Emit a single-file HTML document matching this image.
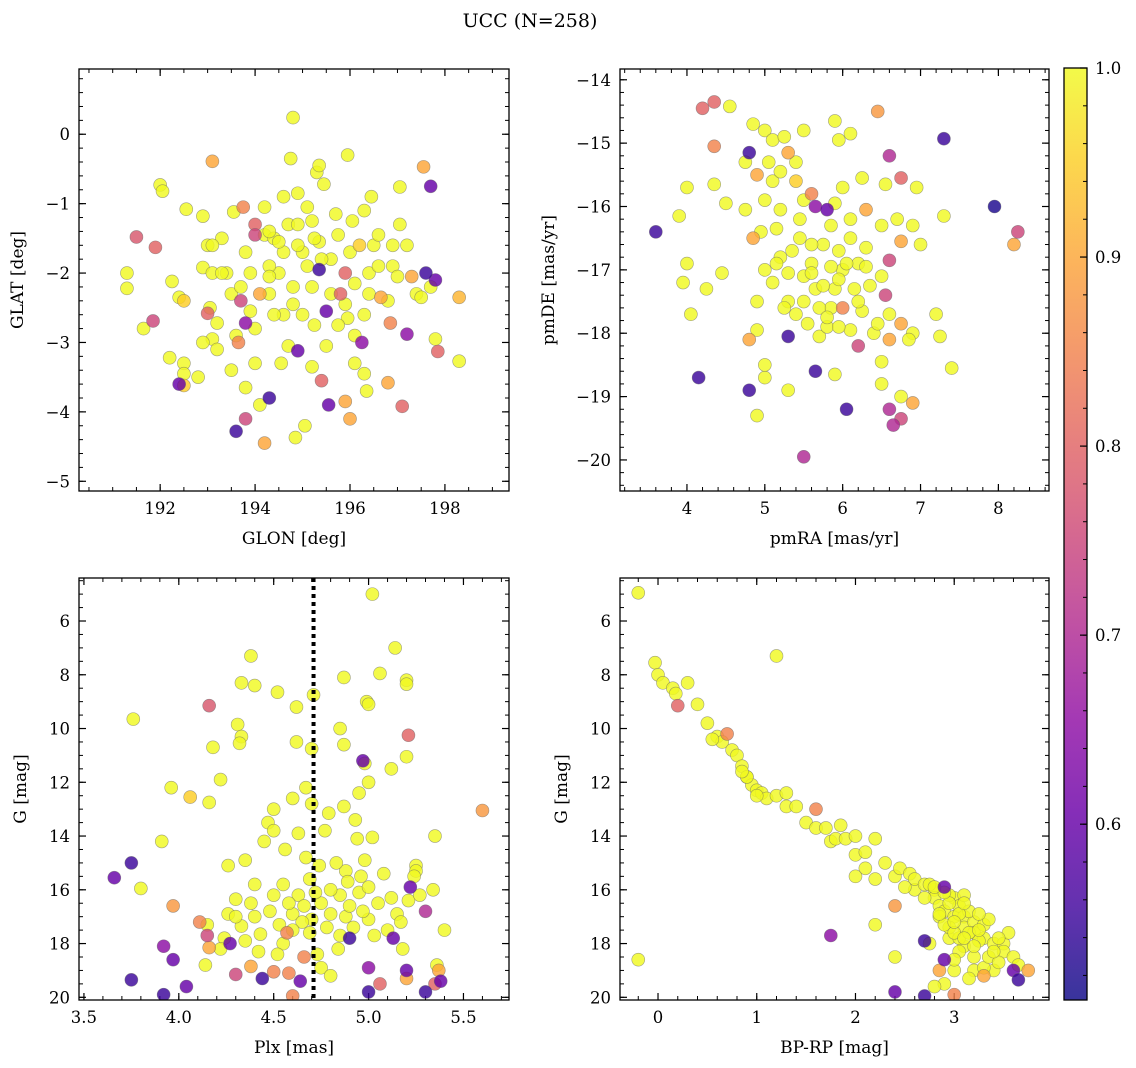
<!DOCTYPE html>
<html><head><meta charset="utf-8"><style>
body{margin:0;background:#fff}
svg{display:block;font-family:"DejaVu Serif","Liberation Serif",serif}
</style></head><body>
<svg id="fig" width="1136" height="1068" viewBox="0 0 1136 1068" xmlns="http://www.w3.org/2000/svg">
<text x="530" y="27" font-size="19" text-anchor="middle">UCC (N=258)</text>
</svg>
<script>
// ---- data: [x, y, membership probability] ----
const glonGlat = [[194.8,0.24,1],[193.1,-0.39,0.9],[192.0,-0.73,1],[192.05,-0.82,1],[191.5,-1.48,0.78],[191.9,-1.63,0.8],[191.3,-2.0,1],[191.3,-2.22,1],[191.65,-2.8,1],[191.85,-2.69,0.75],[192.55,-1.08,1],[192.9,-1.18,1],[193.3,-1.5,1],[193.0,-1.6,1],[192.25,-2.12,1],[192.4,-2.35,1],[192.5,-2.4,0.95],[192.5,-3.3,1],[192.5,-3.45,1],[192.5,-3.62,0.95],[192.4,-3.6,0.6],[192.2,-3.22,1],[192.8,-3.5,1],[192.9,-1.92,1],[193.1,-2.0,1],[193.05,-2.5,1],[193.0,-2.58,0.8],[193.2,-2.72,1],[193.1,-2.95,1],[193.2,-3.1,1],[193.5,-3.4,1],[193.6,-4.28,0.55],[193.8,-4.1,0.75],[194.2,-4.45,0.9],[194.3,-3.8,0.55],[194.1,-3.9,1],[193.8,-3.65,1],[193.65,-3.0,0.85],[193.7,-2.4,0.75],[193.8,-2.72,0.65],[193.9,-2.0,1],[194.0,-1.45,0.75],[193.55,-1.12,1],[193.75,-1.05,0.85],[194.0,-1.3,0.8],[194.2,-1.05,1],[194.2,-1.45,1],[194.1,-2.3,0.9],[194.6,-1.7,1],[194.6,-2.6,1],[194.7,-3.05,1],[194.9,-3.12,0.6],[194.85,-4.37,1],[195.05,-4.2,1],[195.2,-3.35,1],[195.4,-3.55,0.8],[195.55,-3.9,0.6],[195.9,-3.85,0.9],[196.0,-4.1,0.9],[196.3,-3.45,1],[196.25,-3.0,0.65],[196.35,-3.7,1],[196.8,-3.58,0.9],[197.1,-3.92,0.8],[197.2,-2.88,0.65],[197.6,-2.0,0.55],[197.8,-2.1,0.6],[197.8,-2.95,1],[197.85,-3.13,0.8],[198.3,-3.27,1],[198.3,-2.35,0.92],[197.55,-0.47,0.9],[197.7,-0.75,0.6],[197.05,-0.76,1],[196.45,-0.9,1],[197.05,-1.3,1],[196.85,-2.72,0.85],[195.3,-0.55,1],[195.45,-0.72,1],[195.95,-0.3,1],[195.35,-0.45,1],[194.75,-0.35,1],[194.9,-0.85,1],[194.6,-0.9,1],[195.1,-1.05,1],[195.7,-1.15,1],[196.05,-1.25,1],[196.3,-1.1,1],[195.35,-1.55,1],[195.25,-1.5,1],[195.9,-2.0,0.8],[195.35,-1.95,0.55],[195.5,-2.55,0.6],[195.8,-2.3,0.8],[196.9,-1.9,1],[197.2,-1.6,1],[196.65,-2.35,0.9],[196.1,-2.15,1],[195.0,-2.6,1],[194.5,-2.0,1],[194.3,-2.3,1],[194.0,-2.8,1],[195.0,-1.7,1],[195.6,-1.8,1],[196.5,-1.6,1],[196.2,-1.6,0.95],[196.8,-2.4,1],[197.4,-2.3,1],[197.3,-2.05,0.9],[194.7,-1.3,1],[194.9,-1.3,1],[195.2,-2.2,1],[193.4,-2.0,1],[193.6,-2.9,1],[195.5,-3.05,1],[194.55,-3.3,1],[195.95,-2.65,1],[196.4,-2.0,1],[195.75,-1.45,1],[193.1,-1.6,1],[193.8,-1.7,1],[194.4,-1.5,1],[194.3,-1.9,1],[194.8,-2.2,1],[195.6,-2.3,1],[196.6,-1.9,1],[196.1,-2.9,1],[194.4,-2.6,1],[197.0,-2.05,1],[196.3,-2.6,1],[194.0,-3.3,1],[194.3,-1.4,1],[194.5,-1.55,1],[194.9,-1.6,1],[195.4,-1.8,1],[195.1,-1.9,1],[196.0,-1.7,1],[196.6,-1.45,1],[196.9,-1.6,1],[197.5,-2.35,1],[197.7,-2.2,1],[193.5,-2.3,1],[193.3,-2.0,1],[193.7,-2.2,1],[194.8,-2.45,1],[195.25,-2.75,1],[195.75,-2.75,1],[196.1,-3.3,1],[194.3,-2.05,1],[195.2,-1.25,1],[193.9,-2.55,1],[195.9,-2.45,1],[196.4,-2.3,1],[192.9,-3.0,1]];
const pmraPmde = [[4.35,-14.35,0.8],[4.2,-14.45,0.8],[4.55,-14.42,1],[4.35,-15.05,0.85],[4.75,-15.3,1],[4.85,-14.7,1],[5.0,-14.8,1],[5.1,-14.95,1],[5.25,-14.9,1],[5.5,-14.8,1],[5.9,-14.65,1],[6.45,-14.5,0.88],[6.1,-14.85,1],[5.95,-14.95,1],[7.3,-14.93,0.55],[6.6,-15.2,0.7],[4.8,-15.15,0.55],[4.9,-15.5,0.9],[5.4,-15.6,0.95],[5.3,-15.15,0.9],[5.4,-15.3,1],[5.6,-15.8,0.85],[5.0,-15.9,1],[5.2,-16.05,1],[4.35,-15.65,1],[3.9,-16.15,1],[4.5,-15.95,1],[4.0,-15.7,1],[3.6,-16.4,0.55],[7.95,-16.0,0.52],[8.25,-16.4,0.75],[8.2,-16.6,0.9],[6.25,-15.55,1],[6.75,-15.55,0.8],[6.0,-15.7,1],[5.8,-16.05,0.6],[5.65,-16.0,0.65],[5.85,-16.3,1],[6.3,-16.05,0.9],[6.55,-15.65,1],[6.95,-15.7,1],[7.3,-16.15,1],[6.9,-16.3,1],[7.0,-16.6,1],[6.7,-16.2,1],[6.75,-16.55,0.9],[6.6,-16.85,0.75],[6.55,-17.4,0.75],[6.6,-17.7,1],[6.75,-17.85,0.9],[6.9,-18.0,1],[7.2,-17.7,1],[7.4,-18.55,1],[7.25,-18.05,1],[6.85,-18.1,1],[6.6,-18.1,0.9],[6.5,-18.45,1],[6.5,-18.8,1],[6.75,-19.0,1],[6.9,-19.1,0.9],[6.75,-19.35,0.75],[6.65,-19.45,0.7],[6.6,-19.2,0.7],[6.2,-18.2,0.75],[6.1,-17.95,1],[6.0,-17.6,0.85],[6.05,-19.2,0.55],[5.65,-18.6,0.55],[5.9,-18.65,1],[5.5,-19.95,0.7],[5.3,-18.9,1],[4.8,-18.9,0.55],[5.0,-18.7,1],[5.0,-18.5,1],[4.9,-19.3,1],[4.15,-18.7,0.55],[4.8,-18.1,0.9],[4.9,-17.95,1],[4.05,-17.7,1],[3.95,-17.2,1],[4.25,-17.3,1],[4.45,-17.05,1],[4.0,-16.9,1],[5.0,-17.0,1],[5.3,-17.05,1],[5.5,-17.1,1],[5.3,-17.5,1],[5.5,-17.5,1],[5.4,-17.7,1],[5.3,-18.05,0.55],[5.7,-18.05,1],[5.8,-17.9,1],[5.9,-17.3,1],[6.0,-17.0,1],[6.2,-16.9,1],[6.35,-17.25,1],[6.5,-17.1,1],[5.6,-16.9,1],[5.75,-16.6,1],[5.35,-16.7,1],[4.95,-16.4,1],[5.15,-16.35,1],[4.75,-16.05,1],[4.85,-16.5,0.9],[5.45,-16.2,1],[6.1,-16.5,1],[6.05,-16.9,1],[6.3,-16.65,1],[5.85,-17.6,1],[5.65,-17.3,1],[5.95,-17.9,1],[6.4,-18.0,1],[6.25,-17.65,1],[4.9,-17.5,1],[5.1,-17.2,1],[5.85,-16.95,1],[5.6,-17.05,1],[5.2,-16.8,1],[5.7,-17.6,1],[6.15,-17.3,1],[5.45,-16.5,1],[5.1,-15.6,1],[5.95,-16.7,1],[5.05,-15.3,1],[5.2,-15.45,1],[5.5,-15.9,1],[5.9,-15.95,1],[6.1,-16.2,1],[5.75,-17.25,1],[5.95,-17.15,1],[6.2,-17.5,1],[5.55,-17.85,1],[5.25,-17.6,1],[5.6,-16.6,1],[6.5,-16.3,1],[6.45,-17.85,1],[5.15,-16.9,1],[6.3,-16.95,1],[5.8,-17.75,1]];
const plxG = [[5.02,5.0,1],[4.38,7.3,1],[4.33,8.3,1],[4.4,8.4,1],[4.52,8.65,1],[4.71,8.75,1],[4.62,9.2,1],[4.16,9.15,0.78],[3.76,9.65,1],[4.31,9.85,1],[4.33,10.3,1],[4.32,10.55,1],[4.18,10.7,1],[3.96,12.2,1],[4.06,12.55,0.95],[4.16,12.75,1],[4.22,11.9,1],[4.62,10.5,1],[4.7,10.75,1],[4.87,10.6,1],[4.85,10.0,1],[4.99,9.0,1],[5.0,9.1,1],[4.87,8.1,1],[5.06,7.95,1],[5.2,8.2,1],[5.2,8.35,1],[5.14,7.0,1],[4.97,11.2,0.6],[4.98,11.3,1],[5.12,11.5,1],[5.21,10.25,0.8],[5.2,11.05,1],[5.0,12.0,1],[4.95,12.4,1],[5.6,13.05,0.88],[5.35,14.0,1],[4.67,12.2,1],[4.6,12.6,1],[4.5,13.0,1],[4.47,13.5,1],[4.5,13.8,1],[4.63,13.9,1],[4.7,12.8,1],[4.79,13.15,1],[4.87,12.9,1],[4.94,14.1,1],[5.02,14.05,1],[5.25,15.1,1],[5.25,15.3,1],[5.24,15.5,1],[5.22,15.9,0.6],[5.34,16.0,1],[5.3,16.8,0.7],[5.4,17.5,1],[5.36,18.8,1],[5.37,19.0,0.9],[5.38,19.4,0.6],[5.35,19.5,0.8],[5.3,19.8,0.55],[5.2,19.0,0.6],[5.2,19.3,0.9],[5.0,19.8,0.55],[5.0,18.9,0.65],[5.06,19.5,0.8],[4.9,17.8,0.55],[5.13,17.8,0.6],[5.1,17.5,1],[3.92,19.9,0.55],[3.75,19.35,0.55],[4.04,19.6,0.6],[3.97,18.6,0.6],[3.92,18.1,0.65],[3.66,15.55,0.6],[3.75,15.0,0.55],[3.8,15.95,1],[3.91,14.2,1],[3.97,16.6,0.88],[4.11,17.2,0.85],[4.15,17.7,0.75],[4.16,18.15,0.9],[4.24,17.8,1],[4.27,18.0,0.6],[4.3,19.15,0.75],[4.38,18.85,0.9],[4.44,19.3,0.55],[4.5,19.05,0.85],[4.58,19.1,0.85],[4.6,19.95,0.85],[4.64,19.4,0.6],[4.66,18.5,0.85],[4.57,17.6,0.85],[4.43,17.65,1],[4.26,16.9,1],[4.15,17.3,1],[4.14,18.8,1],[4.22,18.2,1],[4.3,16.35,1],[4.38,16.5,1],[4.33,17.35,1],[4.4,15.8,1],[4.55,15.8,1],[4.5,16.2,1],[4.48,16.8,1],[4.6,16.9,1],[4.53,17.3,1],[4.7,17.1,1],[4.75,16.5,1],[4.8,16.9,1],[4.88,17.0,1],[4.85,16.2,1],[4.95,16.1,1],[5.05,16.5,1],[5.0,17.1,1],[4.92,17.4,1],[4.84,18.2,1],[4.73,18.4,1],[4.69,17.6,1],[4.75,18.9,1],[4.8,19.2,1],[4.69,15.6,1],[4.74,15.1,1],[4.88,15.3,1],[4.98,14.9,1],[5.08,15.4,1],[5.0,15.9,1],[5.12,16.3,1],[5.15,16.9,1],[5.17,17.2,1],[5.21,16.4,1],[4.56,14.5,1],[4.67,14.8,1],[4.45,14.2,1],[4.35,14.9,1],[4.26,15.1,1],[4.55,18.0,1],[4.42,18.3,1],[4.8,16.0,1],[4.63,16.2,1],[4.89,15.7,1],[4.77,13.8,1],[4.93,13.4,1],[4.65,17.2,1],[4.9,16.6,1],[4.58,16.5,1],[4.4,17.0,1],[4.72,16.1,1],[4.6,17.5,1],[4.78,17.4,1],[4.85,17.7,1],[4.97,16.8,1],[5.03,17.7,1],[4.52,18.4,1],[4.35,17.9,1],[4.3,17.0,1],[4.66,16.6,1],[4.83,15.0,1],[4.96,15.5,1],[5.27,16.2,1],[5.18,18.2,1]];
const bprpG = [[-0.2,4.95,1],[-0.03,7.55,1],[0.0,8.0,1],[0.05,8.3,1],[0.15,8.5,1],[0.18,8.7,1],[0.2,9.15,0.8],[0.3,8.3,1],[0.4,9.1,1],[0.5,9.8,1],[0.6,10.3,1],[0.65,10.5,1],[0.7,10.2,0.85],[0.75,10.8,1],[0.8,11.0,1],[0.85,11.4,1],[0.9,11.8,1],[0.95,12.1,1],[1.0,12.3,1],[1.05,12.4,1],[1.1,12.6,1],[1.2,12.5,1],[1.2,7.3,1],[1.3,12.9,1],[1.4,12.9,1],[1.5,13.5,1],[1.6,13.7,1],[1.6,13.0,0.85],[1.7,13.7,1],[1.75,14.2,1],[1.8,14.1,1],[1.85,13.6,1],[1.9,14.1,1],[2.0,14.0,1],[2.0,14.7,1],[2.1,14.6,1],[2.1,15.2,1],[2.0,15.5,1],[2.2,14.1,1],[2.3,15.0,1],[2.4,15.5,1],[2.45,15.2,1],[2.4,16.6,0.88],[2.55,15.4,1],[2.6,16.0,1],[2.6,15.6,1],[2.7,15.8,1],[2.8,16.0,1],[2.75,15.8,1],[2.9,15.9,0.6],[2.8,16.3,1],[2.85,16.6,1],[2.9,16.8,1],[3.0,16.3,1],[3.0,17.0,1],[3.05,16.6,1],[3.1,17.0,1],[3.1,17.4,1],[3.2,17.2,1],[3.2,17.6,1],[3.3,17.8,1],[3.3,17.3,1],[3.4,18.0,1],[3.5,18.0,1],[3.5,18.3,1],[3.6,18.5,1],[3.65,18.8,1],[3.75,19.0,0.9],[3.6,19.0,0.6],[3.65,19.35,0.55],[3.4,19.0,1],[3.3,19.2,0.9],[3.2,19.0,1],[3.0,19.0,1],[2.85,19.0,0.9],[2.9,19.5,1],[3.0,19.9,0.85],[2.8,19.6,1],[2.9,18.6,0.6],[2.75,18.0,1],[2.7,17.9,0.55],[2.7,19.95,0.55],[2.4,19.8,0.6],[2.2,17.3,1],[2.4,18.5,1],[1.75,17.7,0.65],[-0.2,18.6,1],[2.95,17.8,1],[3.1,18.1,1],[3.2,18.5,1],[3.3,18.9,1],[3.05,18.3,1],[2.95,17.4,1],[3.35,18.5,1],[2.85,17.0,1],[2.95,16.2,1],[3.05,17.8,1],[3.15,16.8,1],[3.25,17.9,1],[2.9,17.3,1],[3.0,18.6,1],[3.15,19.3,1],[3.45,18.7,1],[3.55,17.6,1],[2.7,16.3,1],[2.5,15.9,1],[2.2,15.6,1],[1.3,12.4,1],[0.9,11.8,1],[3.1,16.2,1],[3.35,17.1,1],[2.95,16.5,1],[3.05,16.9,1],[3.15,17.6,1],[3.25,17.5,1],[3.0,17.6,1],[2.9,16.1,1],[3.1,16.5,1],[3.2,18.1,1],[3.4,18.3,1],[3.45,17.8,1],[2.85,16.9,1],[3.0,17.2,1],[3.1,17.8,1],[2.8,15.9,1],[3.25,16.9,1],[0.85,11.6,1],[1.0,12.5,1],[0.55,10.4,1]];
// ---- tick values ----
const p1XTicks = [192,194,196,198];
const p1YTicks = [0,-1,-2,-3,-4,-5];
const p2XTicks = [4,5,6,7,8];
const p2YTicks = [-14,-15,-16,-17,-18,-19,-20];
const p3XTicks = [3.5,4.0,4.5,5.0,5.5];
const p4XTicks = [0,1,2,3];
const gTicks = [6,8,10,12,14,16,18,20];
const cbTicks = [1.0,0.9,0.8,0.7,0.6];
const plxLine = 4.71;

const NS='http://www.w3.org/2000/svg';
const svg=document.getElementById('fig');
function mk(tag,attrs,parent){const e=document.createElementNS(NS,tag);for(const k in attrs)e.setAttribute(k,attrs[k]);(parent||svg).appendChild(e);return e;}
const stops=['#0d0887','#41049d','#6a00a8','#8f0da4','#b12a90','#cc4778','#e16462','#f2844b','#fca636','#fcce25','#f0f921'];
const VMIN=0.507,VMAX=1.0;
function hx(c){return [1,3,5].map(i=>parseInt(c.substr(i,2),16));}
function plasma(t){t=Math.max(0,Math.min(1,t))*10;const i=Math.min(9,Math.floor(t)),f=t-i;const a=hx(stops[i]),b=hx(stops[i+1]);return 'rgb('+a.map((v,k)=>Math.round(v+(b[k]-v)*f)).join(',')+')';}
function fmt(v,d){return (v<0?'−':'')+Math.abs(v).toFixed(d);}
const TF=16.5, LF=17;

function panel(o){
  const g=mk('g',{});
  
  
  const [L,T,R,B]=o.box;
  const sx=v=>L+(v-o.xd[0])/(o.xd[1]-o.xd[0])*(R-L);
  const sy=v=>T+(v-o.yTop)/(o.yBot-o.yTop)*(B-T);
  const xmin=Math.min(...o.xd),xmax=Math.max(...o.xd),ymin=Math.min(o.yTop,o.yBot),ymax=Math.max(o.yTop,o.yBot);
  for(let v=Math.ceil(xmin/o.xm)*o.xm;v<=xmax;v+=o.xm){const x=sx(v);mk('line',{x1:x,x2:x,y1:B,y2:B-4,stroke:'#000','stroke-width':1},g);mk('line',{x1:x,x2:x,y1:T,y2:T+4,stroke:'#000','stroke-width':1},g);}
  for(let v=Math.ceil(ymin/o.ym)*o.ym;v<=ymax;v+=o.ym){const y=sy(v);mk('line',{x1:L,x2:L+4,y1:y,y2:y,stroke:'#000','stroke-width':1},g);mk('line',{x1:R,x2:R-4,y1:y,y2:y,stroke:'#000','stroke-width':1},g);}
  o.xt.forEach(v=>{const x=sx(v);mk('line',{x1:x,x2:x,y1:B,y2:B-7,stroke:'#000','stroke-width':1.2},g);mk('line',{x1:x,x2:x,y1:T,y2:T+7,stroke:'#000','stroke-width':1.2},g);
    const t=mk('text',{x:x,y:B+23,'font-size':TF,'text-anchor':'middle'},g);t.textContent=fmt(v,o.xdec);
    
    });
  o.yt.forEach(v=>{const y=sy(v);mk('line',{x1:L,x2:L+7,y1:y,y2:y,stroke:'#000','stroke-width':1.2},g);mk('line',{x1:R,x2:R-7,y1:y,y2:y,stroke:'#000','stroke-width':1.2},g);
    const t=mk('text',{x:L-9,y:y+6,'font-size':TF,'text-anchor':'end'},g);t.textContent=fmt(v,0);
    
    });
  const clipId='c'+o.name;const cp=mk('clipPath',{id:clipId},g);mk('rect',{x:L,y:T,width:R-L,height:B-T},cp);
  const pts=mk('g',{'clip-path':'url(#'+clipId+')'},g);
  const sorted=o.data.slice().sort((a,b)=>b[2]-a[2]);
  sorted.forEach(d=>{const c=mk('circle',{cx:sx(d[0]),cy:sy(d[1]),r:6.5,fill:plasma((d[2]-VMIN)/(VMAX-VMIN)),'fill-opacity':0.82,stroke:'#666','stroke-opacity':0.6,'stroke-width':0.6},pts);
    
    });
  if(o.vline!==undefined){const x=sx(o.vline);const l=mk('line',{x1:x,x2:x,y1:T,y2:B,stroke:'#000','stroke-width':4,'stroke-dasharray':'4 4'},g);
    
    }
  const fr=mk('rect',{x:L,y:T,width:R-L,height:B-T,fill:'none',stroke:'#000','stroke-width':1.3},g);
  
  
  const xl=mk('text',{x:(L+R)/2,y:B+53,'font-size':LF,'text-anchor':'middle'},g);xl.textContent=o.xlab;
  
  
  const yl=mk('text',{x:0,y:0,'font-size':LF,'text-anchor':'middle',transform:'translate('+(o.ylx)+','+((T+B)/2)+') rotate(-90)'},g);yl.textContent=o.ylab;
  
  
}
panel({name:'glon-glat-panel',box:[79,69,509,491],xd:[190.29,199.35],yTop:0.94,yBot:-5.14,xt:p1XTicks,yt:p1YTicks,xm:0.5,ym:0.2,xdec:0,data:glonGlat,xlab:'GLON [deg]',ylab:'GLAT [deg]',ylx:23});
panel({name:'pm-panel',box:[620,69,1049,491],xd:[3.14,8.65],yTop:-13.83,yBot:-20.49,xt:p2XTicks,yt:p2YTicks,xm:0.2,ym:0.2,xdec:0,data:pmraPmde,xlab:'pmRA [mas/yr]',ylab:'pmDE [mas/yr]',ylx:554});
panel({name:'plx-g-panel',box:[79,578,509,1000],xd:[3.474,5.74],yTop:4.4,yBot:20.1,xt:p3XTicks,yt:gTicks,xm:0.1,ym:0.5,xdec:1,data:plxG,xlab:'Plx [mas]',ylab:'G [mag]',ylx:26,vline:plxLine});
panel({name:'cmd-panel',box:[620,578,1049,1000],xd:[-0.385,3.96],yTop:4.4,yBot:20.1,xt:p4XTicks,yt:gTicks,xm:0.2,ym:0.5,xdec:0,data:bprpG,xlab:'BP-RP [mag]',ylab:'G [mag]',ylx:567});

// colorbar
(function(){
  const L=1064,R=1087,T=68,B=1000;
  const g=mk('g',{});
  
  
  const defs=mk('defs',{},g);const lg=mk('linearGradient',{id:'cbg',x1:0,y1:1,x2:0,y2:0},defs);
  for(let i=0;i<=20;i++){mk('stop',{offset:i/20,'stop-color':plasma(i/20)},lg);}
  mk('rect',{x:L,y:T,width:R-L,height:B-T,fill:'url(#cbg)','fill-opacity':0.82},g);
  const sy=v=>B-(v-VMIN)/(VMAX-VMIN)*(B-T);
  for(let v=0.52;v<=1.0001;v+=0.02){const y=sy(v);mk('line',{x1:R,x2:R-4,y1:y,y2:y,stroke:'#000','stroke-width':1},g);}
  cbTicks.forEach(v=>{const y=sy(v);mk('line',{x1:R,x2:R-7,y1:y,y2:y,stroke:'#000','stroke-width':1.2},g);
    const t=mk('text',{x:R+8,y:y+6,'font-size':TF},g);t.textContent=v.toFixed(1);
    
    });
  mk('rect',{x:L,y:T,width:R-L,height:B-T,fill:'none',stroke:'#000','stroke-width':1.3},g);
})();
</script>
</body></html>
